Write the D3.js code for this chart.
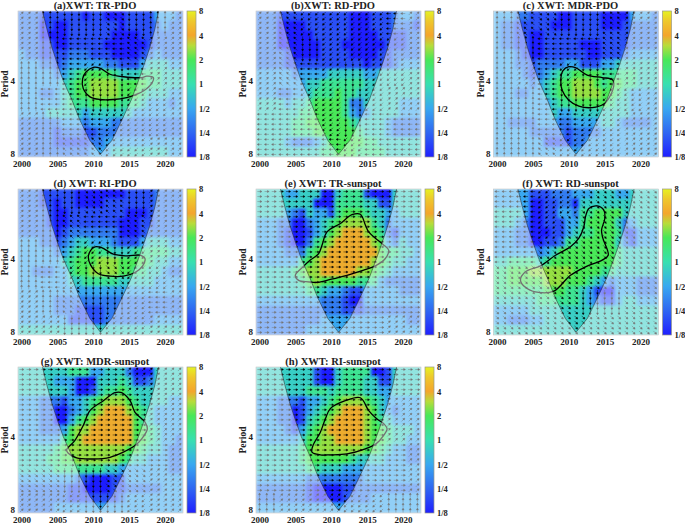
<!DOCTYPE html>
<html>
<head>
<meta charset="utf-8">
<script src="https://cdn.jsdelivr.net/npm/d3@7"></script>
<style>
body { margin: 0; background: #fff; }
text { font-family: "Liberation Serif", serif; font-weight: bold; fill: #222; }
</style>
</head>
<body>
<svg id="chart" width="685" height="525"></svg>
<script>
// x axis
var years = d3.range(2000, 2023);
var yearTicks = [2000, 2005, 2010, 2015, 2020];
var periodTicks = [4, 8];
var periodDomain = [2.07, 8.26];

// colorbar
var barTicks = [8, 4, 2, 1, 0.5, 0.25, 0.125];
var barLabels = ["8", "4", "2", "1", "1/2", "1/4", "1/8"];
var cmapPower = [0.125, 0.25, 0.5, 1, 2, 3, 4, 6, 8];
var cmapColor = ["#1f1fff", "#2f66f2", "#38a8f0", "#38e0b0", "#48e858", "#b8dc3a", "#f4a52c", "#eec82c", "#e6f222"];

// log2 power for each digit in the tables below
var levels = [-3, -2.33, -1.67, -1, -0.33, 0.33, 1, 1.4, 1.95, 3];

// cone of influence, [year, period]
var coi = [[2002.9,2.07],[2003.5,2.44],[2004.2,2.91],[2005.1,3.5],[2005.8,4],[2007,4.8],[2008.1,5.8],[2009.5,7.05],[2011,8.05],
           [2012.6,7.05],[2014,5.8],[2015.3,4.8],[2016.3,4],[2017,3.5],[2017.9,2.91],[2018.6,2.44],[2019.1,2.07]];

// power: one digit per year, rows from short to long period
var powerA = ["22211 11110 11000 11113 332","22201 00111 11110 11112 322","22200 00111 11100 00112 222","22211 00111 11000 00012 222","32211 11222 11100 00123 222","33322 12333 33221 11344 433","33333 23456 66654 44555 444","33333 34566 77776 66655 444","33322 34566 77776 66544 433","33333 34555 66665 55433 323","33334 44443 44444 43333 333","22222 23332 33322 22222 222","22222 12221 12222 22222 222","22222 11111 22333 33333 333","22222 22222 33344 44444 433"];
var powerB = ["22211 11111 11100 01112 332","22200 00111 11100 01112 221","22200 00011 11100 00111 122","22200 00001 11000 00011 122","22221 00001 11100 00112 222","22221 11111 11111 01112 333","33333 23333 44444 33444 444","33333 33445 55555 44444 444","33322 33455 56554 44444 444","44443 44566 66522 44444 333","44444 45566 66532 34444 333","44444 55666 66654 44432 222","44444 55566 66665 44432 222","44443 22234 66666 55444 444","44444 44445 56665 55544 444"];
var powerC = ["33322 11110 01111 00003 332","32211 11100 01111 00012 222","32211 00111 11111 11112 222","32211 00111 11000 11112 222","33321 00111 11100 11123 333","33322 12222 33111 33444 444","33332 12345 56666 55555 444","33333 23456 67776 56655 444","33322 33456 67777 66543 333","33333 33345 56666 65443 333","33333 33343 34444 44443 333","33222 23332 23333 44322 223","33333 22222 12222 33333 333","33333 33111 12233 33333 333","33333 33333 33333 33333 333"];
var powerD = ["22211 11100 00000 11112 222","22211 01100 00111 11112 222","22221 00111 11111 00012 222","22221 00111 11110 00112 222","22222 01222 22220 00122 222","33322 12344 33321 11344 433","33333 23456 65544 45555 544","33333 34566 67776 66654 433","33222 33566 77776 65544 322","33333 33445 55554 44443 333","33333 33333 33333 33333 333","33333 22222 22222 22222 222","33333 22211 11222 22222 222","33333 33111 11222 22223 333","44444 44444 44444 44444 444"];
var powerE = ["44443 34440 04555 10004 444","44444 44400 05555 44114 444","44443 21433 15666 54433 444","33322 00234 56777 75423 333","33321 00134 67888 76521 333","33321 00256 78888 87632 433","33332 22567 88888 88655 443","33333 35678 88888 87654 433","44444 56778 88887 76543 333","44444 45676 66665 55322 222","44444 44554 33211 33333 222","33333 33332 22100 33333 333","22222 22222 22111 22222 222","22222 22223 33333 33333 322","22222 22333 33333 33333 333"];
var powerF = ["33333 11122 23334 44334 444","33333 00112 20444 44444 444","44443 00113 32556 66644 444","44432 00111 33566 66423 444","33322 00011 34556 66511 333","33322 00112 55666 66421 333","33333 32346 66666 66544 444","44555 54566 66666 66544 444","55666 77777 76666 55444 444","55666 66777 66654 32333 222","55555 55666 55431 00333 222","44444 45555 55432 11344 333","33333 44444 44444 44444 444","33222 33444 44444 44444 444","44444 44444 44444 44444 444"];
var powerG = ["44444 44555 33444 20004 444","44444 33300 04445 41124 444","44444 44300 14556 54444 444","33322 21334 56777 65444 433","33322 00234 67888 76543 333","33322 00356 78888 86543 333","33322 23677 88888 86654 333","33333 35678 88888 86654 332","44444 56777 77777 66544 322","44445 56677 77776 54433 322","44444 55555 55443 33333 322","33333 33321 00011 33333 333","22222 22110 00011 22222 333","22222 22111 11112 33333 333","22222 33333 33333 33333 333"];
var powerH = ["44444 44410 04555 50014 444","44444 44410 04555 44114 444","44444 44555 45555 44334 444","33322 21334 56777 65433 333","33322 01345 67888 76432 333","33322 01456 78888 76543 333","33332 13567 88888 76654 443","33333 34667 78888 76654 433","44444 45677 77777 66543 322","44444 45666 66654 44433 322","44444 44554 44333 33333 333","33333 33222 22222 33333 333","22222 22100 00112 22222 222","22222 22100 00122 23333 333","33333 33333 33333 33333 333"];

// phase arrows: coarse table, digit x 45 degrees counter-clockwise from east
var phaseA = ["12667621","12444311","22456411","24466551","12445551","12335511"];
var phaseB = ["13555541","13655551","13456551","14556511","44456444","44445444"];
var phaseC = ["23766311","22444311","21456411","22466551","22445511","22355511"];
var phaseD = ["12673611","12344311","22456511","24567551","12366541","11665511"];
var phaseE = ["00000000","00000000","00000000","00000000","00000000","00000011"];
var phaseF = ["44557777","44577777","44777777","77777777","77776677","77777777"];
var phaseG = ["00000111","00000011","00000011","00000001","77667711","11566511"];
var phaseH = ["00000000","00000011","00000011","00000001","00000001","21115522"];

// significance contours, [year, period]
var contourA = [[2010,3.53],[2010.93,3.56],[2012.33,3.77],[2014.19,3.86],[2016.74,3.89],[2017.44,3.84],[2018.37,3.89],[2018.14,4.11],[2016.98,4.42],[2016.05,4.56],[2014.65,4.7],[2012.79,4.79],[2010.93,4.79],[2009.53,4.67],[2008.6,4.32],[2008.51,3.93],[2008.98,3.69]];
var contourB = [];
var contourC = [[2010,3.51],[2010.93,3.54],[2012.56,3.8],[2014.65,3.89],[2016.05,3.96],[2016.28,4.11],[2015.81,4.6],[2014.88,5],[2013.26,5.17],[2011.4,5.1],[2010,4.82],[2009.07,4.39],[2008.88,3.99],[2009.16,3.65]];
var contourD = [[2010.23,3.58],[2011.16,3.61],[2012.79,3.84],[2014.65,3.9],[2016.6,3.88],[2017.2,4],[2016.88,4.29],[2015.81,4.57],[2014.19,4.73],[2012.33,4.73],[2010.7,4.62],[2009.63,4.26],[2009.3,3.94],[2009.63,3.7]];
var contourE = [[2006.05,4.33],[2007.07,4.06],[2008.23,3.82],[2008.7,3.53],[2009.4,3.11],[2011.26,2.87],[2012.88,2.64],[2014.05,2.63],[2014.74,2.91],[2015.21,3.11],[2016.14,3.3],[2017.21,3.5],[2018,3.7],[2017.53,4],[2016.14,4.29],[2014.51,4.47],[2012.19,4.69],[2009.86,4.88],[2008,5.02],[2006.84,4.99],[2005.44,4.92],[2004.98,4.69]];
var contourF = [[2006.05,4.29],[2008.14,3.88],[2010.23,3.58],[2011.4,3.3],[2012.09,2.96],[2012.33,2.69],[2012.79,2.49],[2013.95,2.43],[2014.88,2.53],[2015.02,2.73],[2014.56,3.06],[2014.74,3.3],[2015.49,3.88],[2014.65,4.06],[2012.33,4.33],[2010.23,4.69],[2007.91,5.45],[2005.81,5.52],[2004.19,5.32],[2003.26,4.92],[2003.95,4.54]];
var contourG = [[2006.28,4.54],[2007.44,4.15],[2008.6,3.6],[2009.53,3.13],[2011.4,2.85],[2013.02,2.64],[2013.95,2.64],[2015.12,2.85],[2015.81,3.18],[2017.21,3.49],[2017.53,3.72],[2016.74,4.09],[2015.81,4.36],[2014.19,4.64],[2012.33,4.87],[2010,4.95],[2007.67,4.9],[2006.51,4.69]];
var contourH = [[2007.3,4.64],[2007.44,4.36],[2008.47,3.84],[2009.16,3.39],[2009.86,3.07],[2011.95,2.85],[2014.05,2.77],[2015.21,3.13],[2016.37,3.39],[2017.3,3.54],[2017.77,3.72],[2017.3,3.96],[2016.23,4.29],[2014.74,4.5],[2012.19,4.72],[2009.86,4.76],[2008.47,4.76]];

var titles = ["(a)XWT: TR-PDO", "(b)XWT: RD-PDO", "(c) XWT: MDR-PDO", "(d) XWT: RI-PDO", "(e) XWT: TR-sunspot", "(f) XWT: RD-sunspot", "(g) XWT: MDR-sunspot", "(h) XWT: RI-sunspot"];
var powers = [powerA, powerB, powerC, powerD, powerE, powerF, powerG, powerH];
var phases = [phaseA, phaseB, phaseC, phaseD, phaseE, phaseF, phaseG, phaseH];
var contours = [contourA, contourB, contourC, contourD, contourE, contourF, contourG, contourH];

var colLeft = [18, 256, 493.5];
var rowTop = [11, 189, 367];
var plotW = 165, plotH = 146;
var barGap = 4, barW = 9;

var svg = d3.select("#chart");
var defs = svg.append("defs");

var blur = defs.append("filter").attr("id", "soft")
    .attr("x", "-2%").attr("y", "-2%").attr("width", "104%").attr("height", "104%");
blur.append("feGaussianBlur").attr("stdDeviation", 1.5).attr("edgeMode", "duplicate");

var blurArrow = defs.append("filter").attr("id", "softArrow")
    .attr("x", "-2%").attr("y", "-2%").attr("width", "104%").attr("height", "104%");
blurArrow.append("feGaussianBlur").attr("stdDeviation", 0.3);

var x = d3.scaleLinear().domain([1999.5, 2022.5]).range([0, plotW]);
var y = d3.scaleLog().base(2).domain(periodDomain).range([0, plotH]);
var barY = d3.scaleLog().base(2).domain([8, 0.125]).range([0, plotH]);
var color = d3.scaleLinear().domain(cmapPower.map(function(p) { return Math.log2(p); })).range(cmapColor);
var rowBand = d3.scaleBand().domain(d3.range(15)).range([0, plotH]);
var arrowRow = d3.scaleBand().domain(d3.range(29)).range([0, plotH]);

var grad = defs.append("linearGradient").attr("id", "cbar")
    .attr("x1", 0).attr("y1", 1).attr("x2", 0).attr("y2", 0);
cmapPower.forEach(function(p, i) {
    grad.append("stop")
        .attr("offset", (Math.log2(p) + 3) / 6)
        .attr("stop-color", cmapColor[i]);
});

var coiLine = d3.line().x(function(d) { return x(d[0]); }).y(function(d) { return y(d[1]); });
var contourLine = d3.line().x(function(d) { return x(d[0]); }).y(function(d) { return y(d[1]); })
    .curve(d3.curveCatmullRomClosed.alpha(0.5));

titles.forEach(function(title, k) {
    var left = colLeft[k % 3], top = rowTop[Math.floor(k / 3)];
    var g = svg.append("g").attr("transform", "translate(" + left + "," + top + ")");

    defs.append("clipPath").attr("id", "plot" + k)
        .append("rect").attr("width", plotW).attr("height", plotH);

    var inner = g.append("g").attr("clip-path", "url(#plot" + k + ")");

    // power cells
    var rows = powers[k].map(function(r) { return r.split(" ").join(""); });
    var cells = [];
    rows.forEach(function(r, j) {
        years.forEach(function(yr, i) {
            cells.push({ year: yr, row: j, v: levels[+r[i]] });
        });
    });
    inner.append("g").attr("filter", "url(#soft)")
        .selectAll("rect").data(cells).enter().append("rect")
        .attr("x", function(d) { return x(d.year - 0.5) - 0.3; })
        .attr("y", function(d) { return rowBand(d.row) - 0.3; })
        .attr("width", x(1) - x(0) + 0.6)
        .attr("height", rowBand.bandwidth() + 0.6)
        .attr("fill", function(d) { return color(d.v); });

    // phase arrows
    var arrows = [];
    d3.range(29).forEach(function(j) {
        years.forEach(function(yr, i) {
            var r = Math.floor(j / 29 * 6), c = Math.floor(i / 23 * 8);
            arrows.push({ year: yr, row: j, dir: +phases[k][r][c] });
        });
    });
    inner.append("g").attr("filter", "url(#softArrow)").selectAll("path").data(arrows).enter().append("path")
        .attr("d", "M-2.2,0L1,0M2.4,0L0.6,-1L0.6,1Z")
        .attr("transform", function(d) {
            return "translate(" + x(d.year) + "," + (arrowRow(d.row) + arrowRow.bandwidth() / 2) + ")rotate(" + (-45 * d.dir) + ")";
        })
        .attr("stroke", "#000").attr("stroke-width", 0.45).attr("fill", "#000");

    // significance contour
    if (contours[k].length > 0) {
        inner.append("path").attr("d", contourLine(contours[k]))
            .attr("fill", "none").attr("stroke", "#000").attr("stroke-width", 1.3);
    }

    // white veil outside the cone of influence
    var corners = "M0,0H" + plotW + "V" + plotH + "H0Z";
    inner.append("path").attr("d", corners + coiLine(coi) + "L" + x(coi[coi.length - 1][0]) + ",0L" + x(coi[0][0]) + ",0Z")
        .attr("fill", "#fff").attr("fill-opacity", 0.45).attr("fill-rule", "evenodd");
    inner.append("path").attr("d", coiLine(coi))
        .attr("fill", "none").attr("stroke", "#222").attr("stroke-width", 0.5);

    g.append("rect").attr("width", plotW).attr("height", plotH)
        .attr("fill", "none").attr("stroke", "#bbb").attr("stroke-width", 0.5);

    // axes
    var xAxis = g.append("g").attr("transform", "translate(0," + plotH + ")")
        .call(d3.axisBottom(x).tickValues(yearTicks).tickFormat(d3.format("d")).tickSize(0).tickPadding(4));
    var yAxis = g.append("g")
        .call(d3.axisLeft(y).tickValues(periodTicks).tickFormat(d3.format("d")).tickSize(0).tickPadding(3));
    xAxis.select(".domain").remove();
    yAxis.select(".domain").remove();
    xAxis.selectAll("text").style("font-size", "9px");
    yAxis.selectAll("text").style("font-size", "9px");

    g.append("text").attr("x", 77).attr("y", -2).attr("text-anchor", "middle")
        .style("font-size", "10.5px").text(title);
    g.append("text").attr("transform", "translate(-10," + 73 + ")rotate(-90)")
        .attr("text-anchor", "middle").style("font-size", "9.5px").text("Period");

    // colorbar
    var bar = g.append("g").attr("transform", "translate(" + (plotW + barGap) + ",0)");
    bar.append("rect").attr("width", barW).attr("height", plotH)
        .attr("fill", "url(#cbar)").attr("stroke", "#998").attr("stroke-width", 0.7);
    var barAxis = bar.append("g").attr("transform", "translate(" + barW + ",0)")
        .call(d3.axisRight(barY).tickValues(barTicks)
            .tickFormat(function(d, i) { return barLabels[i]; }).tickSize(0).tickPadding(3));
    barAxis.select(".domain").remove();
    barAxis.selectAll("text").style("font-size", "8.5px");
});
</script>
</body>
</html>
